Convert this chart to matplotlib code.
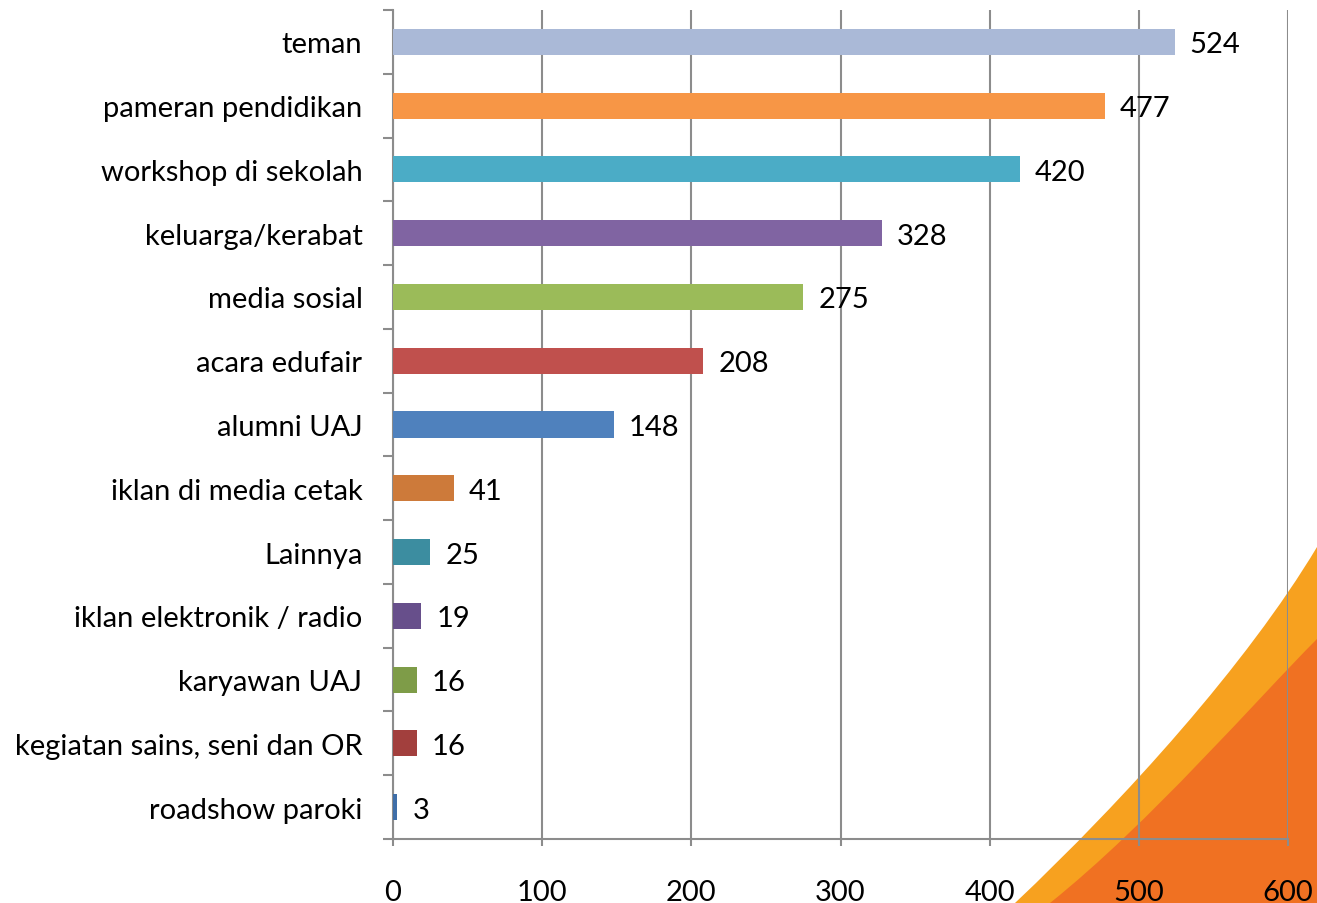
import matplotlib
matplotlib.use("Agg")
import matplotlib.pyplot as plt
from matplotlib.patches import PathPatch
from matplotlib.path import Path
import numpy as np

categories = ["teman", "pameran pendidikan", "workshop di sekolah", "keluarga/kerabat",
              "media sosial", "acara edufair", "alumni UAJ", "iklan di media cetak",
              "Lainnya", "iklan elektronik / radio", "karyawan UAJ",
              "kegiatan sains, seni dan OR", "roadshow paroki"]
values = [524, 477, 420, 328, 275, 208, 148, 41, 25, 19, 16, 16, 3]
colors = ["#AAB9D7", "#F79646", "#4BACC6", "#8064A2", "#9BBB59", "#C0504D", "#4F81BD",
          "#CD7A3A", "#3C8DA0", "#674F8B", "#7E9C48", "#A23F3D", "#3F6EA8"]
xticks = [0, 100, 200, 300, 400, 500, 600]

plt.rcParams['font.family'] = ['Lato', 'DejaVu Sans']
W, H = 1317, 904
fig = plt.figure(figsize=(W/100, H/100), dpi=100)
fig.patch.set_facecolor("white")

# background decoration (figure pixel coords -> figure fraction)
def fp(x, y):
    return (x / W, 1 - y / H)

def swoosh(p0, p1, p2, p3, color):
    verts = [fp(*p0), fp(*p1), fp(*p2), fp(*p3), fp(1317, p3[1]), fp(1317, 904), fp(*p0)]
    codes = [Path.MOVETO, Path.CURVE4, Path.CURVE4, Path.CURVE4,
             Path.LINETO, Path.LINETO, Path.CLOSEPOLY]
    fig.patches.append(PathPatch(Path(verts, codes), transform=fig.transFigure,
                                 facecolor=color, edgecolor="none", zorder=-5))

swoosh((1015, 904), (1125, 800), (1247, 665), (1317, 548), "#F7A11F")
swoosh((1050, 904), (1150, 824), (1257, 700), (1317, 640), "#F07122")

ax = fig.add_axes([393/W, 1 - 840/H, (1288 - 393)/W, (840 - 11)/H])
ax.set_zorder(5)
ax.set_facecolor("none")
n = len(categories)
y = np.arange(n)
ax.barh(y, values, height=0.41, color=colors, zorder=3)
for yi, v in zip(y, values):
    ax.text(v + 10, yi, str(v), va="center_baseline", ha="left", fontsize=21,
            color="black", zorder=4)

ax.set_ylim(n - 0.5, -0.5)
ax.set_xlim(0, 600)
ax.set_xticks(xticks)
ax.set_xticklabels([str(t) for t in xticks], fontsize=21)
ax.set_yticks(y)
ax.set_yticklabels(categories, fontsize=21)
ax.set_yticks(np.arange(-0.5, n, 1), minor=True)
ax.tick_params(axis="y", which="major", length=0, pad=22)
ax.tick_params(axis="y", which="minor", length=7, width=1.5, color="#8C8C8C")
ax.tick_params(axis="x", which="major", length=5, width=1.5, color="#8C8C8C", pad=24)
ax.grid(axis="x", color="#8C8C8C", linewidth=1.5, zorder=1)
for s in ["top", "right"]:
    ax.spines[s].set_visible(False)
for s in ["left", "bottom"]:
    ax.spines[s].set_color("#8C8C8C")
    ax.spines[s].set_linewidth(1.5)
ax.set_axisbelow(True)

fig.savefig("out.png", dpi=100)
